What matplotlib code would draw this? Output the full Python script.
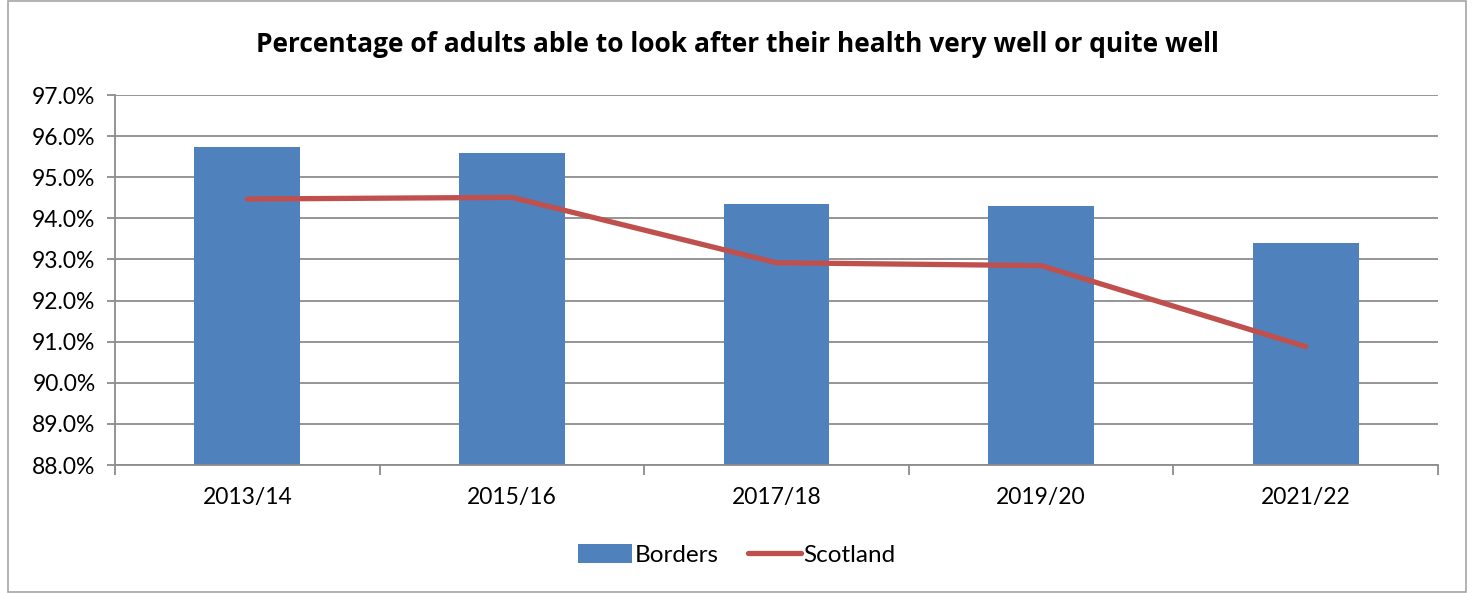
import matplotlib
matplotlib.use("Agg")
import matplotlib.pyplot as plt
from matplotlib.patches import Rectangle
from matplotlib.ticker import FuncFormatter, FixedLocator

# Survey years and results (% of adults)
years = ["2013/14", "2015/16", "2017/18", "2019/20", "2021/22"]
borders = [95.74, 95.59, 94.34, 94.29, 93.40]
scotland = [94.47, 94.51, 92.92, 92.85, 90.88]

BAR_BLUE = "#4F81BD"
LINE_RED = "#C0504D"
GRID = "#8C8C8C"

plt.rcParams["font.family"] = ["Lato", "DejaVu Sans"]

fig = plt.figure(figsize=(14.74, 5.93), dpi=100)
fig.patch.set_facecolor("white")

# outer chart border
fig.add_artist(Rectangle((8 / 1474, 0.002), 1458 / 1474, 0.996, transform=fig.transFigure,
                         fill=False, edgecolor="#A6A6A6", linewidth=1.2))

ax = fig.add_axes([115 / 1474, 1 - 465 / 593, (1438 - 115) / 1474, 370 / 593])

x = list(range(len(years)))
bars = ax.bar(x, borders, width=0.4, color=BAR_BLUE, zorder=2, label="Borders")
line, = ax.plot(x, scotland, color=LINE_RED, linewidth=3.8, solid_capstyle="round", zorder=3,
                label="Scotland")

ax.set_xlim(-0.5, len(years) - 0.5)
ax.set_ylim(88, 97)
ax.set_yticks([88 + i for i in range(10)])
ax.yaxis.set_major_formatter(FuncFormatter(lambda v, _: f"{v:.1f}%"))
ax.grid(axis="y", color=GRID, linewidth=1.3, zorder=1)

ax.set_xticks(x)
ax.set_xticklabels(years)
ax.xaxis.set_minor_locator(FixedLocator([i - 0.5 for i in range(len(years) + 1)]))
ax.tick_params(axis="x", which="major", length=0, pad=16, labelsize=16.5)
ax.tick_params(axis="x", which="minor", length=7, color=GRID, width=1.3)
ax.tick_params(axis="y", length=6, color=GRID, width=1.3, labelsize=16.5, pad=8)

for side in ("top", "right"):
    ax.spines[side].set_visible(False)
for side in ("left", "bottom"):
    ax.spines[side].set_color(GRID)
    ax.spines[side].set_linewidth(1.3)

fig.text(0.5, 1 - 45 / 593, "Percentage of adults able to look after their health very well or quite well",
         ha="center", va="center", fontsize=19, fontweight="bold", family=["Open Sans", "DejaVu Sans"])

fig.legend([bars, line], ["Borders", "Scotland"], loc="center", bbox_to_anchor=(0.5, 1 - 555 / 593),
           ncol=2, frameon=False, fontsize=17.5, handlelength=2.2, handleheight=0.8,
           handletextpad=0.1, columnspacing=1.2)

fig.savefig("out.png", facecolor="white")
plt.close(fig)
